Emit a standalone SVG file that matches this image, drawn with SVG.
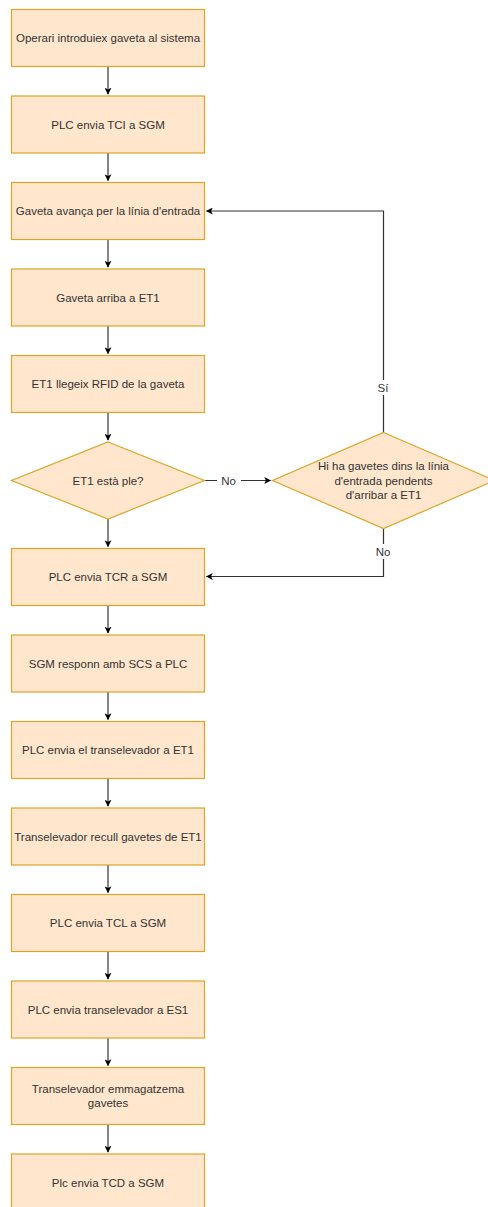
<svg xmlns="http://www.w3.org/2000/svg" width="488" height="1207" viewBox="0 0 488 1207">
<style>
.n{fill:#ffe6cc;stroke:#dba52a;stroke-width:1.2}
.t{font-family:"Liberation Sans",Arial,sans-serif;font-size:11.5px;fill:#333;text-anchor:middle;dominant-baseline:central}
.c{fill:none;stroke:#333;stroke-width:1.2}
.l{font-family:"Liberation Sans",Arial,sans-serif;font-size:11.5px;fill:#333;text-anchor:middle;dominant-baseline:central}
</style>
<defs>
<marker id="a" viewBox="0 0 10 10" refX="9" refY="5" markerWidth="7" markerHeight="7" markerUnits="userSpaceOnUse" orient="auto">
<path d="M0,0 L10,5 L0,10 L2.5,5 Z" fill="#000"/>
</marker>
</defs>
<rect width="488" height="1207" fill="#fff"/>
<g id="connectors">
<path class="c" d="M108,66.5 V94" marker-end="url(#a)"/>
<path class="c" d="M108,153 V180.5" marker-end="url(#a)"/>
<path class="c" d="M108,239.5 V267" marker-end="url(#a)"/>
<path class="c" d="M108,326 V353.5" marker-end="url(#a)"/>
<path class="c" d="M108,412.5 V440" marker-end="url(#a)"/>
<path class="c" d="M108,519 V546.5" marker-end="url(#a)"/>
<path class="c" d="M108,605.5 V633" marker-end="url(#a)"/>
<path class="c" d="M108,692 V719.5" marker-end="url(#a)"/>
<path class="c" d="M108,778.5 V806" marker-end="url(#a)"/>
<path class="c" d="M108,865 V892.5" marker-end="url(#a)"/>
<path class="c" d="M108,951.5 V979" marker-end="url(#a)"/>
<path class="c" d="M108,1038 V1065.5" marker-end="url(#a)"/>
<path class="c" d="M108,1124.5 V1152" marker-end="url(#a)"/>
<path class="c" d="M204.5,480.5 H270.5" marker-end="url(#a)"/>
<rect x="217" y="473" width="24" height="15" fill="#fff"/>
<text class="l" x="228.5" y="480.5">No</text>
<path class="c" d="M383.5,432.5 V211 H206.5" marker-end="url(#a)"/>
<rect x="374" y="380" width="19" height="15" fill="#fff"/>
<text class="l" x="383" y="388">Sí</text>
<path class="c" d="M383.5,528.5 V576.5 H206.5" marker-end="url(#a)"/>
<rect x="371" y="544" width="24" height="15" fill="#fff"/>
<text class="l" x="383" y="551.5">No</text>
</g>
<g id="n1"><rect class="n" x="11.5" y="9.5" width="193" height="57"/><text class="t" x="108" y="38">Operari introduiex gaveta al sistema</text></g>
<g id="n2"><rect class="n" x="11.5" y="96" width="193" height="57"/><text class="t" x="108" y="124.5">PLC envia TCI a SGM</text></g>
<g id="n3"><rect class="n" x="11.5" y="182.5" width="193" height="57"/><text class="t" x="108" y="211">Gaveta avança per la línia d'entrada</text></g>
<g id="n4"><rect class="n" x="11.5" y="269" width="193" height="57"/><text class="t" x="108" y="297.5">Gaveta arriba a ET1</text></g>
<g id="n5"><rect class="n" x="11.5" y="355.5" width="193" height="57"/><text class="t" x="108" y="384">ET1 llegeix RFID de la gaveta</text></g>
<g id="d1"><path class="n" d="M108,442 L204.5,480.5 L108,519 L11.5,480.5 Z"/><text class="t" x="108" y="480.5">ET1 està ple?</text></g>
<g id="d2"><path class="n" d="M383.5,432.5 L494.5,480.5 L383.5,528.5 L272.5,480.5 Z"/><text class="t" x="383.5" y="466">Hi ha gavetes dins la línia</text><text class="t" x="383.5" y="480.5">d'entrada pendents</text><text class="t" x="383.5" y="495">d'arribar a ET1</text></g>
<g id="n6"><rect class="n" x="11.5" y="548.5" width="193" height="57"/><text class="t" x="108" y="577">PLC envia TCR a SGM</text></g>
<g id="n7"><rect class="n" x="11.5" y="635" width="193" height="57"/><text class="t" x="108" y="663.5">SGM responn amb SCS a PLC</text></g>
<g id="n8"><rect class="n" x="11.5" y="721.5" width="193" height="57"/><text class="t" x="108" y="750">PLC envia el transelevador a ET1</text></g>
<g id="n9"><rect class="n" x="11.5" y="808" width="193" height="57"/><text class="t" x="108" y="836.5">Transelevador recull gavetes de ET1</text></g>
<g id="n10"><rect class="n" x="11.5" y="894.5" width="193" height="57"/><text class="t" x="108" y="923">PLC envia TCL a SGM</text></g>
<g id="n11"><rect class="n" x="11.5" y="981" width="193" height="57"/><text class="t" x="108" y="1009.5">PLC envia transelevador a ES1</text></g>
<g id="n12"><rect class="n" x="11.5" y="1067.5" width="193" height="57"/><text class="t" x="108" y="1088.5">Transelevador emmagatzema</text><text class="t" x="108" y="1103">gavetes</text></g>
<g id="n13"><rect class="n" x="11.5" y="1154" width="193" height="57"/><text class="t" x="108" y="1182.5">Plc envia TCD a SGM</text></g>
</svg>
